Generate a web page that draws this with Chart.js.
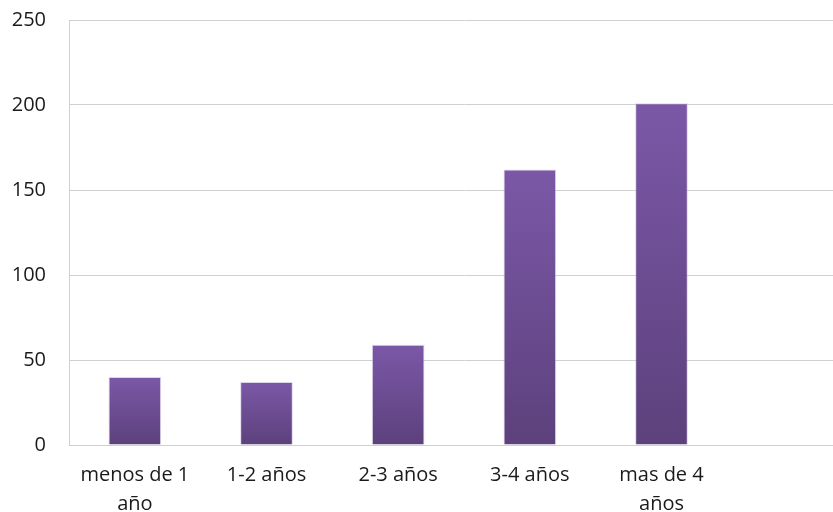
<!DOCTYPE html>
<html>
<head>
<meta charset="utf-8">
<script src="https://cdn.jsdelivr.net/npm/chart.js@4/dist/chart.umd.min.js"></script>
<style>
  html, body { margin: 0; padding: 0; overflow: hidden; background: #fff; }
  #wrap { width: 880px; height: 512px; }
</style>
</head>
<body>
<div id="wrap"><canvas id="chart" width="880" height="512"></canvas></div>
<script>
const categories = [['menos de 1', 'año'], '1-2 años', '2-3 años', '3-4 años', ['mas de 4', 'años'], ''];
const values = [40, 37, 59, 162, 201, null];
const yTicks = [0, 50, 100, 150, 200, 250];

function barGradient(ctx) {
    const chart = ctx.chart;
    if (!chart.chartArea || ctx.raw == null) return '#6f4f98';
    const y = chart.scales.y;
    const top = y.getPixelForValue(ctx.raw);
    const bottom = y.getPixelForValue(0);
    const g = chart.ctx.createLinearGradient(0, top, 0, bottom);
    g.addColorStop(0, '#7b58a7');
    g.addColorStop(1, '#5c417c');
    return g;
}

// scale paddings pushed the plot down, clear them
function noPad(scale) {
    scale.paddingTop = 0;
    scale.paddingBottom = 0;
    scale.paddingLeft = 0;
    scale.paddingRight = 0;
}

const el = document.getElementById('chart');
new Chart(el.getContext('2d'), {
    type: 'bar',
    data: {
        labels: categories,
        datasets: [{
            data: values,
            backgroundColor: barGradient,
            borderColor: 'rgba(200,185,220,0.6)',
            borderWidth: 1,
            categoryPercentage: 1,
            barPercentage: 0.4
        }]
    },
    options: {
        responsive: false,
        animation: false,
        layout: { padding: { top: 20, right: 21, left: 0, bottom: 0 } },
        plugins: { legend: { display: false }, tooltip: { enabled: false } },
        scales: {
            x: {
                grid: { display: false, drawTicks: false },
                border: { color: '#d0d0d0', width: 1 },
                ticks: {
                    color: '#1a1a1a',
                    font: { family: 'Open Sans', size: 20, lineHeight: 1.45 },
                    padding: 16,
                    maxRotation: 0,
                    autoSkip: false
                },
                afterFit(scale) { scale.height = 67; noPad(scale); }
            },
            y: {
                min: 0,
                max: 250,
                afterBuildTicks(scale) { scale.ticks = yTicks.map(v => ({ value: v })); },
                grid: { color: '#d0d0d0', drawTicks: false },
                border: { color: '#d0d0d0', width: 1 },
                ticks: {
                    color: '#1a1a1a',
                    font: { family: 'Open Sans', size: 20 },
                    padding: 23
                },
                afterFit(scale) { scale.width = 69; noPad(scale); }
            }
        }
    }
});
</script>
</body>
</html>
